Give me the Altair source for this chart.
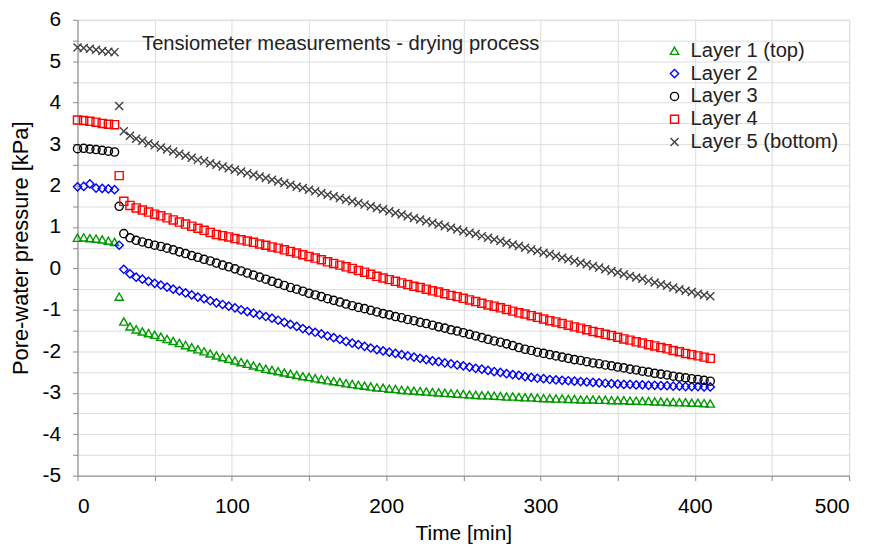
import altair as alt
import pandas as pd

# Sampling times [min]
time_min = [0, 4, 8, 12, 16, 20, 24, 27,
            30, 34, 38, 42, 46, 50, 54, 58, 62, 66,
            70, 74, 78, 82, 86, 90, 94, 98, 102, 106,
            110, 114, 118, 122, 126, 130, 134, 138, 142, 146,
            150, 154, 158, 162, 166, 170, 174, 178, 182, 186,
            190, 194, 198, 202, 206, 210, 214, 218, 222, 226,
            230, 234, 238, 242, 246, 250, 254, 258, 262, 266,
            270, 274, 278, 282, 286, 290, 294, 298, 302, 306,
            310, 314, 318, 322, 326, 330, 334, 338, 342, 346,
            350, 354, 358, 362, 366, 370, 374, 378, 382, 386,
            390, 394, 398, 402, 406, 410]

layer1 = [0.74, 0.75, 0.73, 0.72, 0.70, 0.67, 0.64, -0.68,
          -1.28, -1.40, -1.47, -1.52, -1.56, -1.60, -1.65, -1.70, -1.75, -1.80,
          -1.85, -1.90, -1.95, -2.00, -2.05, -2.10, -2.14, -2.18, -2.22, -2.26,
          -2.30, -2.34, -2.38, -2.42, -2.45, -2.48, -2.51, -2.54, -2.57, -2.60,
          -2.62, -2.65, -2.67, -2.70, -2.72, -2.74, -2.77, -2.79, -2.81, -2.83,
          -2.85, -2.87, -2.88, -2.90, -2.91, -2.93, -2.94, -2.95, -2.96, -2.97,
          -2.98, -2.99, -3.00, -3.01, -3.02, -3.03, -3.04, -3.05, -3.06, -3.06,
          -3.07, -3.08, -3.09, -3.09, -3.10, -3.11, -3.11, -3.12, -3.13, -3.13,
          -3.14, -3.14, -3.15, -3.15, -3.16, -3.16, -3.16, -3.17, -3.17, -3.18,
          -3.18, -3.18, -3.19, -3.19, -3.20, -3.20, -3.21, -3.21, -3.22, -3.22,
          -3.23, -3.23, -3.24, -3.24, -3.25, -3.26]

layer2 = [1.97, 1.98, 2.04, 1.94, 1.93, 1.92, 1.90, 0.56,
          -0.02, -0.13, -0.21, -0.26, -0.31, -0.36, -0.40, -0.45, -0.50, -0.54,
          -0.59, -0.64, -0.69, -0.73, -0.78, -0.83, -0.87, -0.91, -0.95, -1.00,
          -1.04, -1.08, -1.12, -1.16, -1.20, -1.25, -1.30, -1.35, -1.40, -1.45,
          -1.50, -1.54, -1.58, -1.63, -1.67, -1.71, -1.76, -1.80, -1.84, -1.88,
          -1.92, -1.96, -1.99, -2.02, -2.05, -2.08, -2.11, -2.14, -2.17, -2.20,
          -2.23, -2.25, -2.28, -2.30, -2.33, -2.35, -2.38, -2.41, -2.43, -2.46,
          -2.49, -2.51, -2.54, -2.56, -2.58, -2.61, -2.63, -2.65, -2.66, -2.68,
          -2.69, -2.70, -2.71, -2.72, -2.73, -2.74, -2.75, -2.76, -2.77, -2.78,
          -2.79, -2.80, -2.80, -2.81, -2.81, -2.82, -2.82, -2.83, -2.83, -2.84,
          -2.84, -2.85, -2.85, -2.85, -2.86, -2.86]

layer3 = [2.89, 2.90, 2.88, 2.87, 2.85, 2.83, 2.81, 1.50,
          0.84, 0.74, 0.68, 0.64, 0.60, 0.56, 0.53, 0.49, 0.45, 0.40,
          0.36, 0.31, 0.27, 0.22, 0.18, 0.13, 0.08, 0.04, -0.01, -0.06,
          -0.11, -0.16, -0.21, -0.26, -0.31, -0.36, -0.41, -0.46, -0.50, -0.55,
          -0.60, -0.64, -0.68, -0.73, -0.77, -0.81, -0.86, -0.90, -0.94, -0.97,
          -1.01, -1.05, -1.09, -1.12, -1.16, -1.19, -1.23, -1.26, -1.30, -1.33,
          -1.37, -1.41, -1.44, -1.48, -1.51, -1.55, -1.59, -1.63, -1.67, -1.71,
          -1.75, -1.78, -1.82, -1.86, -1.91, -1.95, -1.98, -2.02, -2.05, -2.08,
          -2.11, -2.14, -2.17, -2.20, -2.22, -2.25, -2.28, -2.30, -2.33, -2.35,
          -2.38, -2.40, -2.43, -2.45, -2.48, -2.50, -2.53, -2.55, -2.57, -2.60,
          -2.62, -2.64, -2.66, -2.68, -2.70, -2.72]

layer4 = [3.58, 3.57, 3.55, 3.53, 3.50, 3.48, 3.47, 2.24,
          1.62, 1.52, 1.46, 1.41, 1.36, 1.31, 1.27, 1.22, 1.17, 1.12,
          1.07, 1.02, 0.97, 0.92, 0.87, 0.82, 0.79, 0.76, 0.72, 0.69,
          0.66, 0.63, 0.59, 0.56, 0.52, 0.49, 0.45, 0.41, 0.37, 0.33,
          0.29, 0.25, 0.21, 0.16, 0.12, 0.08, 0.04, 0.00, -0.05, -0.09,
          -0.14, -0.19, -0.23, -0.27, -0.31, -0.35, -0.39, -0.43, -0.46, -0.50,
          -0.54, -0.57, -0.61, -0.65, -0.68, -0.72, -0.76, -0.80, -0.84, -0.88,
          -0.91, -0.95, -0.99, -1.03, -1.07, -1.10, -1.14, -1.18, -1.22, -1.26,
          -1.29, -1.33, -1.37, -1.41, -1.44, -1.48, -1.52, -1.55, -1.59, -1.62,
          -1.66, -1.70, -1.73, -1.77, -1.80, -1.84, -1.87, -1.91, -1.94, -1.98,
          -2.01, -2.05, -2.08, -2.11, -2.14, -2.17]

layer5 = [5.33, 5.32, 5.30, 5.28, 5.25, 5.23, 5.22, 3.92,
          3.31, 3.20, 3.13, 3.08, 3.02, 2.97, 2.92, 2.87, 2.82, 2.77,
          2.72, 2.67, 2.62, 2.59, 2.54, 2.50, 2.46, 2.42, 2.38, 2.34,
          2.30, 2.26, 2.22, 2.18, 2.14, 2.10, 2.06, 2.02, 1.97, 1.94,
          1.90, 1.86, 1.82, 1.78, 1.74, 1.70, 1.66, 1.62, 1.58, 1.54,
          1.50, 1.46, 1.43, 1.38, 1.34, 1.30, 1.26, 1.22, 1.18, 1.14,
          1.10, 1.06, 1.02, 0.98, 0.94, 0.90, 0.86, 0.83, 0.78, 0.74,
          0.70, 0.66, 0.62, 0.58, 0.54, 0.50, 0.46, 0.42, 0.38, 0.35,
          0.30, 0.26, 0.22, 0.18, 0.14, 0.10, 0.06, 0.02, -0.02, -0.06,
          -0.10, -0.14, -0.18, -0.22, -0.25, -0.30, -0.34, -0.38, -0.42, -0.46,
          -0.50, -0.54, -0.57, -0.61, -0.64, -0.67]

names = ["Layer 1 (top)", "Layer 2", "Layer 3", "Layer 4", "Layer 5 (bottom)"]
colors = ["#009900", "#0000ff", "#000000", "#ff0000", "#404040"]
shapes = ["triangle-up", "diamond", "circle", "square", "M-1,-1L1,1M-1,1L1,-1"]
sizes = [70, 65, 55, 55, 90]

x_ticks = [0, 50, 100, 150, 200, 250, 300, 350, 400, 450, 500]
y_ticks = [-5, -4.5, -4, -3.5, -3, -2.5, -2, -1.5, -1, -0.5, 0, 0.5, 1, 1.5,
           2, 2.5, 3, 3.5, 4, 4.5, 5, 5.5, 6]

rows = []
for name, vals in zip(names, [layer1, layer2, layer3, layer4, layer5]):
    for t, v in zip(time_min, vals):
        rows.append({"Time": t, "Pressure": v, "Layer": name})
df = pd.DataFrame(rows)

FONT = "Liberation Sans"

points = alt.Chart(df).mark_point(filled=False, strokeWidth=1.4, opacity=1).encode(
    x=alt.X("Time:Q", title="Time [min]",
            scale=alt.Scale(domain=[0, 500], nice=False, zero=False),
            axis=alt.Axis(values=x_ticks,
                          labelExpr="datum.value % 100 == 0 ? toString(datum.value) : ''",
                          labelOverlap=False, tickSize=5, labelPadding=15,
                          titlePadding=6, labelFontSize=21, titleFontSize=21,
                          titleFontWeight="normal")),
    y=alt.Y("Pressure:Q", title="Pore-water pressure [kPa]",
            scale=alt.Scale(domain=[-5, 6], nice=False, zero=False),
            axis=alt.Axis(values=y_ticks,
                          labelExpr="datum.value % 1 == 0 ? toString(datum.value) : ''",
                          labelOverlap=False, tickSize=5, labelPadding=12,
                          labelFontSize=21, titleFontSize=22,
                          titleFontWeight="normal",
                          titleAngle=-90, titleX=-45, titleY=229.5,
                          titleAlign="center", titleBaseline="bottom")),
    color=alt.Color("Layer:N", scale=alt.Scale(domain=names, range=colors),
                    legend=alt.Legend(title=None, orient="none", legendX=591, legendY=21,
                                      labelFontSize=20.3, labelFont=FONT, labelColor="#222",
                                      symbolSize=45, symbolStrokeWidth=1.4,
                                      rowPadding=2, padding=0, labelOffset=6)),
    shape=alt.Shape("Layer:N", scale=alt.Scale(domain=names, range=shapes)),
    size=alt.Size("Layer:O", scale=alt.Scale(domain=names, range=sizes), legend=None),
)

note_df = pd.DataFrame({"label": ["Tensiometer measurements - drying process"]})
note = alt.Chart(note_df).mark_text(align="left", baseline="middle", fontSize=20.3,
                                    font=FONT, color="#222").encode(
    x=alt.value(65), y=alt.value(24), text="label:N")

chart = alt.layer(points, note).properties(
    width=777, height=459,
    autosize=alt.AutoSizeParams(type="none"),
    padding={"left": 70, "top": 10, "right": 22, "bottom": 75},
).configure_view(stroke="#000", strokeWidth=1.2).configure_axis(
    grid=False, domainColor="#000", domainWidth=1.2, tickColor="#444",
    labelColor="#222", titleColor="#222", labelFont=FONT, titleFont=FONT,
    titleFontWeight="normal",
).configure(background="white")

chart.save("out.html", embed_options={"renderer": "svg", "actions": False})
